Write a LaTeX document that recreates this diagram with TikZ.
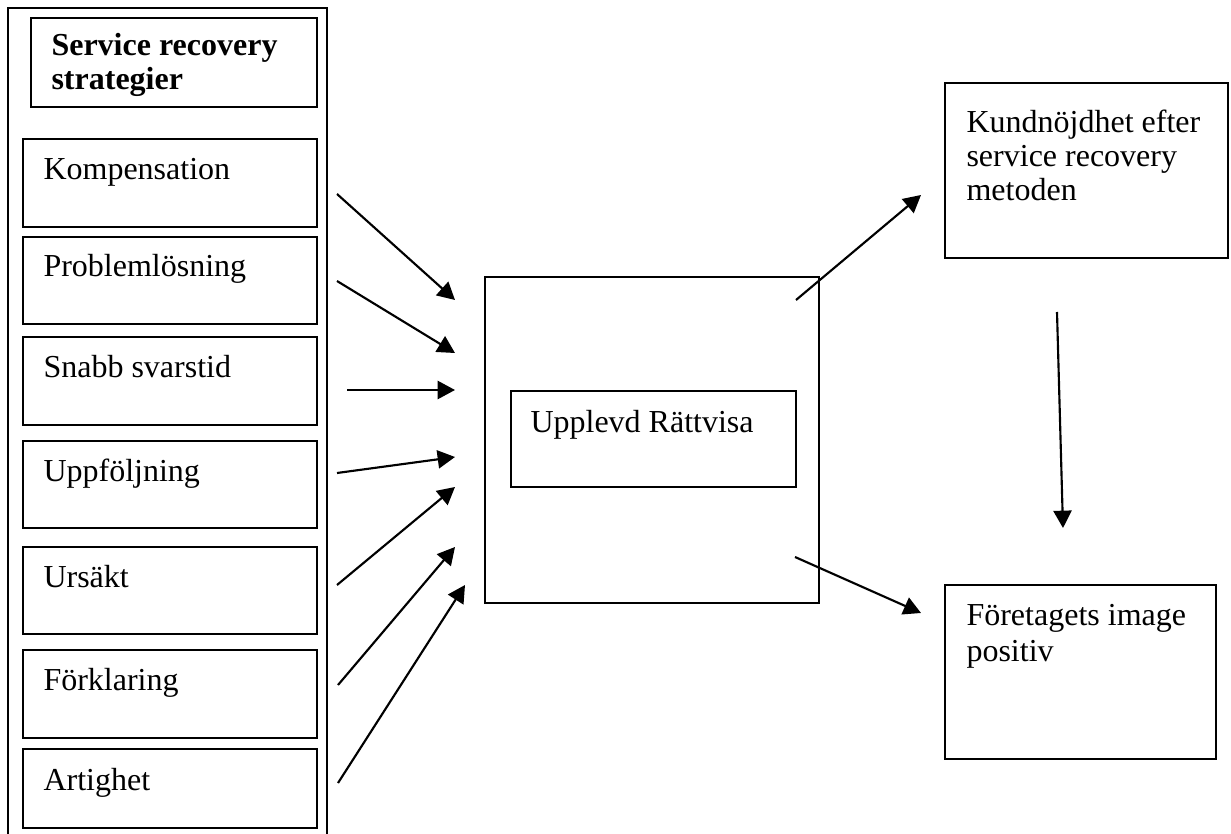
\documentclass[tikz,border=0pt]{standalone}
\usepackage{fontspec}
\setmainfont{Liberation Serif}
\usepackage{tikz}
\usetikzlibrary{arrows.meta}

\tikzset{
  box/.style={draw, line width=0.8pt},
  lbl/.style={anchor=base west, inner sep=0pt, align=left, font=\fontsize{12}{13.5}\selectfont},
  pil/.style={line width=0.8pt, -{Triangle[length=6.5pt,width=6.8pt]}}
}

\begin{document}
\begin{tikzpicture}[x=0.375pt,y=-0.375pt]
\useasboundingbox (0,0) rectangle (1231,834);
% left column with the strategies
\draw[box] (8,834) -- (8,8) -- (327,8) -- (327,834);
\draw[box] (31,18) rectangle (317,107);
\node[lbl, font=\fontsize{12}{12.75}\selectfont\bfseries] (rubrik) at (51,90) {Service recovery\\strategier};
\draw[box] (23,139) rectangle (317,227);
\node[lbl] (komp) at (43,180) {Kompensation};
\draw[box] (23,237) rectangle (317,324);
\node[lbl] (probl) at (43,277) {Problemlösning};
\draw[box] (23,337) rectangle (317,425);
\node[lbl] (snabb) at (43,377) {Snabb svarstid};
\draw[box] (23,441) rectangle (317,528);
\node[lbl] (uppf) at (43,481) {Uppföljning};
\draw[box] (23,547) rectangle (317,634);
\node[lbl] (ursakt) at (43,587) {Ursäkt};
\draw[box] (23,650) rectangle (317,738);
\node[lbl] (forkl) at (43,690) {Förklaring};
\draw[box] (23,749) rectangle (317,828);
\node[lbl] (artig) at (43,790) {Artighet};
% middle
\draw[box] (485,277) rectangle (819,603);
\draw[box] (511,391) rectangle (796,487);
\node[lbl] (ratt) at (530,432) {Upplevd Rättvisa};
% right
\draw[box] (945,83) rectangle (1228,258);
\node[lbl, font=\fontsize{12}{12.75}\selectfont] (nojd) at (966,201) {Kundnöjdhet efter\\service recovery\\metoden};
\draw[box] (945,585) rectangle (1216,759);
\node[lbl] (image) at (966,661) {Företagets image\\positiv};
% arrows in
\coordinate (s1) at (337,194); \coordinate (e1) at (455,300);
\coordinate (s2) at (337,281); \coordinate (e2) at (455,353);
\coordinate (s3) at (347,390); \coordinate (e3) at (455,390);
\coordinate (s4) at (337,473); \coordinate (e4) at (455,457);
\coordinate (s5) at (337,585); \coordinate (e5) at (455,487);
\coordinate (s6) at (338,685); \coordinate (e6) at (455,547);
\coordinate (s7) at (338,783); \coordinate (e7) at (465,585);
\draw[pil] (s1) -- (e1);
\draw[pil] (s2) -- (e2);
\draw[pil] (s3) -- (e3);
\draw[pil] (s4) -- (e4);
\draw[pil] (s5) -- (e5);
\draw[pil] (s6) -- (e6);
\draw[pil] (s7) -- (e7);
% arrows out
\coordinate (u1) at (796,300); \coordinate (v1) at (921,195);
\coordinate (u2) at (1057,312); \coordinate (v2) at (1063,528);
\coordinate (u3) at (795,557); \coordinate (v3) at (921,613);
\draw[pil] (u1) -- (v1);
\draw[pil] (u2) -- (v2);
\draw[pil] (u3) -- (v3);
\end{tikzpicture}
\end{document}
